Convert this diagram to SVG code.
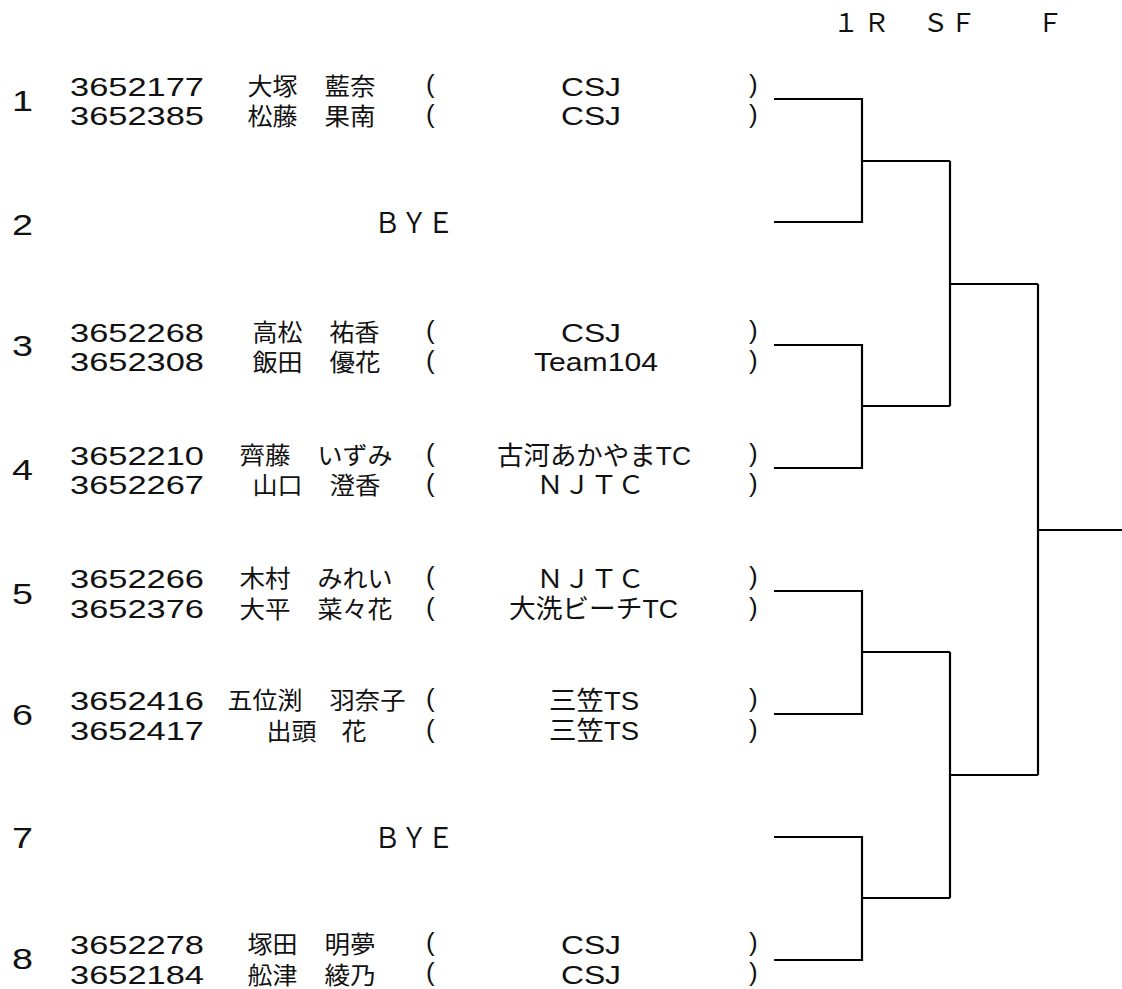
<svg xmlns="http://www.w3.org/2000/svg" width="1122" height="989" viewBox="0 0 1122 989">
<style>
text{font-family:"Liberation Sans","Noto Sans CJK JP",sans-serif;font-size:26px;fill:#111}
.n{font-size:29px}
.j{font-family:"Noto Sans CJK JP",sans-serif;font-size:24px}
.w{font-family:"Noto Sans CJK JP",sans-serif;font-size:26px}
.c path{fill:none;stroke:#000;stroke-width:2.2}
</style>
<rect width="1122" height="989" fill="#fff"/>
<g id="header">
<text class="w" x="833 863.5" y="32">１Ｒ</text>
<text class="w" x="922.5 950" y="32">ＳＦ</text>
<text class="w" x="1037" y="32">Ｆ</text>
</g>
<g id="entry1">
<text class="n" x="12" y="111" textLength="21" lengthAdjust="spacingAndGlyphs">1</text>
<text x="70" y="96" textLength="134" lengthAdjust="spacingAndGlyphs">3652177</text>
<text class="j" x="247.5" y="95" textLength="50" lengthAdjust="spacingAndGlyphs">大塚</text>
<text class="j" x="324.5" y="95" textLength="51" lengthAdjust="spacingAndGlyphs">藍奈</text>
<text x="426" y="93">(</text>
<text x="561" y="96" textLength="60" lengthAdjust="spacingAndGlyphs">CSJ</text>
<text x="749" y="93">)</text>
<text x="70" y="125" textLength="134" lengthAdjust="spacingAndGlyphs">3652385</text>
<text class="j" x="247.5" y="125" textLength="50" lengthAdjust="spacingAndGlyphs">松藤</text>
<text class="j" x="324.5" y="125" textLength="51" lengthAdjust="spacingAndGlyphs">果南</text>
<text x="426" y="123">(</text>
<text x="561" y="125" textLength="60" lengthAdjust="spacingAndGlyphs">CSJ</text>
<text x="749" y="123">)</text>
</g>
<g id="entry2">
<text class="n" x="12" y="235" textLength="21" lengthAdjust="spacingAndGlyphs">2</text>
<text class="w" x="374" y="233" textLength="80" lengthAdjust="spacingAndGlyphs" style="font-size:28px">ＢＹＥ</text>
</g>
<g id="entry3">
<text class="n" x="12" y="356" textLength="21" lengthAdjust="spacingAndGlyphs">3</text>
<text x="70" y="342" textLength="134" lengthAdjust="spacingAndGlyphs">3652268</text>
<text class="j" x="252.5" y="341" textLength="50" lengthAdjust="spacingAndGlyphs">高松</text>
<text class="j" x="329.5" y="341" textLength="50" lengthAdjust="spacingAndGlyphs">祐香</text>
<text x="426" y="339">(</text>
<text x="561" y="342" textLength="60" lengthAdjust="spacingAndGlyphs">CSJ</text>
<text x="749" y="339">)</text>
<text x="70" y="371" textLength="134" lengthAdjust="spacingAndGlyphs">3652308</text>
<text class="j" x="252.5" y="371" textLength="50" lengthAdjust="spacingAndGlyphs">飯田</text>
<text class="j" x="329.5" y="371" textLength="51" lengthAdjust="spacingAndGlyphs">優花</text>
<text x="426" y="369">(</text>
<text x="534" y="371" textLength="124" lengthAdjust="spacingAndGlyphs">Team104</text>
<text x="749" y="369">)</text>
</g>
<g id="entry4">
<text class="n" x="12" y="480" textLength="21" lengthAdjust="spacingAndGlyphs">4</text>
<text x="70" y="465" textLength="134" lengthAdjust="spacingAndGlyphs">3652210</text>
<text class="j" x="239.5" y="464" textLength="51" lengthAdjust="spacingAndGlyphs">齊藤</text>
<text class="j" x="317.5" y="464" textLength="75" lengthAdjust="spacingAndGlyphs">いずみ</text>
<text x="426" y="462">(</text>
<text x="497" y="465" textLength="194" lengthAdjust="spacingAndGlyphs">古河あかやまTC</text>
<text x="749" y="462">)</text>
<text x="70" y="494" textLength="134" lengthAdjust="spacingAndGlyphs">3652267</text>
<text class="j" x="252.5" y="494" textLength="50" lengthAdjust="spacingAndGlyphs">山口</text>
<text class="j" x="329.5" y="494" textLength="51" lengthAdjust="spacingAndGlyphs">澄香</text>
<text x="426" y="492">(</text>
<text class="w" x="536.5" y="494" textLength="108" lengthAdjust="spacingAndGlyphs">ＮＪＴＣ</text>
<text x="749" y="492">)</text>
</g>
<g id="entry5">
<text class="n" x="12" y="604" textLength="21" lengthAdjust="spacingAndGlyphs">5</text>
<text x="70" y="588" textLength="134" lengthAdjust="spacingAndGlyphs">3652266</text>
<text class="j" x="239.5" y="587" textLength="51" lengthAdjust="spacingAndGlyphs">木村</text>
<text class="j" x="317.5" y="587" textLength="75" lengthAdjust="spacingAndGlyphs">みれい</text>
<text x="426" y="585">(</text>
<text class="w" x="536.5" y="588" textLength="108" lengthAdjust="spacingAndGlyphs">ＮＪＴＣ</text>
<text x="749" y="585">)</text>
<text x="70" y="618" textLength="134" lengthAdjust="spacingAndGlyphs">3652376</text>
<text class="j" x="239.5" y="618" textLength="51" lengthAdjust="spacingAndGlyphs">大平</text>
<text class="j" x="317.5" y="618" textLength="75" lengthAdjust="spacingAndGlyphs">菜々花</text>
<text x="426" y="616">(</text>
<text x="509" y="618" textLength="169" lengthAdjust="spacingAndGlyphs">大洗ビーチTC</text>
<text x="749" y="616">)</text>
</g>
<g id="entry6">
<text class="n" x="12" y="725" textLength="21" lengthAdjust="spacingAndGlyphs">6</text>
<text x="70" y="710" textLength="134" lengthAdjust="spacingAndGlyphs">3652416</text>
<text class="j" x="227.5" y="709" textLength="75" lengthAdjust="spacingAndGlyphs">五位渕</text>
<text class="j" x="329.5" y="709" textLength="76" lengthAdjust="spacingAndGlyphs">羽奈子</text>
<text x="426" y="707">(</text>
<text x="549" y="710" textLength="90" lengthAdjust="spacingAndGlyphs">三笠TS</text>
<text x="749" y="707">)</text>
<text x="70" y="740" textLength="134" lengthAdjust="spacingAndGlyphs">3652417</text>
<text class="j" x="266.5" y="740" textLength="50" lengthAdjust="spacingAndGlyphs">出頭</text>
<text class="j" x="341.5" y="740" textLength="25" lengthAdjust="spacingAndGlyphs">花</text>
<text x="426" y="738">(</text>
<text x="549" y="740" textLength="90" lengthAdjust="spacingAndGlyphs">三笠TS</text>
<text x="749" y="738">)</text>
</g>
<g id="entry7">
<text class="n" x="12" y="848" textLength="21" lengthAdjust="spacingAndGlyphs">7</text>
<text class="w" x="374" y="848" textLength="80" lengthAdjust="spacingAndGlyphs" style="font-size:28px">ＢＹＥ</text>
</g>
<g id="entry8">
<text class="n" x="12" y="969" textLength="21" lengthAdjust="spacingAndGlyphs">8</text>
<text x="70" y="954" textLength="134" lengthAdjust="spacingAndGlyphs">3652278</text>
<text class="j" x="247.5" y="953" textLength="50" lengthAdjust="spacingAndGlyphs">塚田</text>
<text class="j" x="324.5" y="953" textLength="51" lengthAdjust="spacingAndGlyphs">明夢</text>
<text x="426" y="951">(</text>
<text x="561" y="954" textLength="60" lengthAdjust="spacingAndGlyphs">CSJ</text>
<text x="749" y="951">)</text>
<text x="70" y="984" textLength="134" lengthAdjust="spacingAndGlyphs">3652184</text>
<text class="j" x="247.5" y="984" textLength="50" lengthAdjust="spacingAndGlyphs">舩津</text>
<text class="j" x="324.5" y="984" textLength="51" lengthAdjust="spacingAndGlyphs">綾乃</text>
<text x="426" y="981">(</text>
<text x="561" y="984" textLength="60" lengthAdjust="spacingAndGlyphs">CSJ</text>
<text x="749" y="981">)</text>
</g>
<g id="connectors" class="c">
<path d="M774 99H862V222H774M862 161H950"/>
<path d="M774 345H862V468H774M862 406H950"/>
<path d="M774 591H862V714H774M862 652H950"/>
<path d="M774 837H862V960H774M862 898H950"/>
<path d="M950 161V406M950 284H1038"/>
<path d="M950 652V898M950 775H1038"/>
<path d="M1038 284V775M1038 530H1122"/>
</g>
</svg>
